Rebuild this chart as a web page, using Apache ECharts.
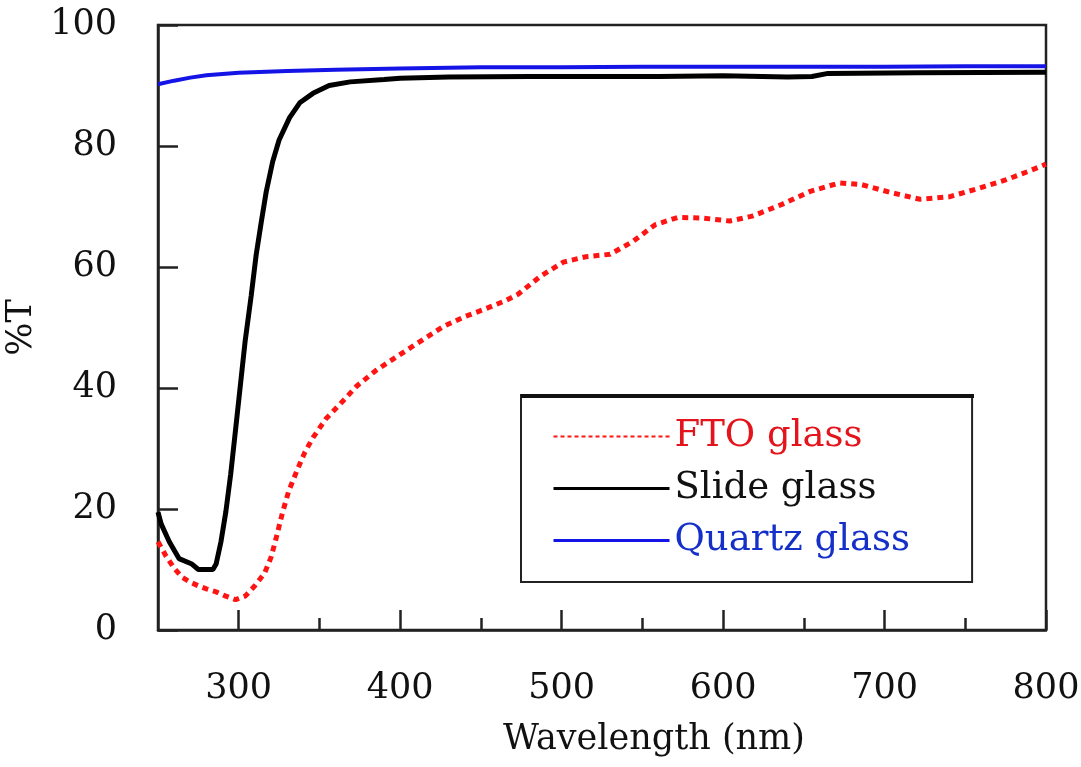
<!DOCTYPE html>
<html>
<head>
<meta charset="utf-8">
<script src="https://cdn.jsdelivr.net/npm/echarts@6/dist/echarts.min.js"></script>
<style>
  html, body { margin: 0; padding: 0; background: #fff; }
  #main { width: 1081px; height: 767px; }
</style>
</head>
<body>
<div id="main"></div>
<script>
var myChart = echarts.init(document.getElementById('main'));

// tick positions (nm)
var majorTicks = [300, 400, 500, 600, 700, 800];
var minorTicks = [350, 450, 550, 650, 750];

// [wavelength nm, %T]
var ftoGlass = [
    [250, 14.6], [255, 12.2], [260, 10.2], [265, 8.7], [270, 7.9], [275, 7.3], [280, 6.8],
    [286, 6.3], [292, 5.6], [298, 5.0], [304, 5.6], [310, 7.3], [316, 9.4], [320, 12.0],
    [323, 15.0], [327, 19.3], [331, 23.0], [336, 26.3], [341, 29.4], [346, 31.8], [354, 34.9],
    [363, 37.4], [373, 40.3], [385, 42.9], [398, 45.2], [410, 47.3], [427, 50.2], [440, 51.8],
    [451, 52.9], [465, 54.4], [473, 55.5], [487, 58.5], [501, 60.8], [515, 61.7], [530, 62.1],
    [544, 64.2], [558, 67.0], [572, 68.2], [587, 68.1], [604, 67.6], [618, 68.4], [636, 70.3],
    [654, 72.5], [672, 73.9], [686, 73.6], [704, 72.3], [722, 71.2], [740, 71.6], [757, 72.9],
    [775, 74.4], [789, 75.8], [800, 77.0]
];
var slideGlass = [
    [250, 19.5], [252, 17.5], [257, 14.6], [263, 11.8], [271, 10.9], [275, 10.0], [284, 10.0],
    [286, 10.9], [289, 14.6], [292, 19.5], [295, 25.7], [298, 33.0], [301, 40.4], [304, 47.8],
    [307.7, 55.2], [310.8, 62.0], [314, 67.5], [317, 72.4], [321, 77.4], [325, 81.0],
    [331.5, 84.7], [338, 87.2], [346, 88.7], [356, 90.0], [369, 90.6], [390, 91.0], [400, 91.2],
    [430, 91.4], [480, 91.5], [560, 91.5], [600, 91.6], [640, 91.4], [655, 91.5], [665, 92.0],
    [720, 92.1], [800, 92.2]
];
var quartzGlass = [
    [250, 90.2], [260, 90.8], [270, 91.3], [280, 91.7], [300, 92.1], [330, 92.4], [360, 92.6],
    [400, 92.8], [450, 93.0], [500, 93.0], [550, 93.1], [600, 93.1], [650, 93.1], [700, 93.1],
    [750, 93.2], [800, 93.2]
];

var serif = 'DejaVu Serif';

option = {
    backgroundColor: '#fff',
    grid: {
        left: 158,
        right: 35,
        top: 25,
        bottom: 137,
        show: true,
        borderColor: '#222',
        borderWidth: 2.5,
        outerBoundsMode: 'none'
    },
    legend: {
        left: 521,
        top: 395,
        orient: 'vertical',
        padding: [23, 62, 23, 31],
        itemGap: 15,
        itemWidth: 116,
        itemHeight: 20,
        itemTextGap: 10,
        borderColor: '#222',
        borderWidth: 2,
        itemStyle: { opacity: 0 },
        textStyle: { fontFamily: serif, fontSize: 37 },
        data: [
            { name: 'FTO glass', textStyle: { color: '#e3141c' }, lineStyle: { width: 2, type: [4, 3] } },
            { name: 'Slide glass', textStyle: { color: '#111' }, lineStyle: { width: 3 } },
            { name: 'Quartz glass', textStyle: { color: '#1530c8' }, lineStyle: { width: 3 } }
        ]
    },
    graphic: [{
        type: 'rect',
        shape: { x: 521, y: 394, width: 453, height: 4 },
        style: { fill: '#111' },
        z: 100
    }],
    xAxis: [{
        type: 'value',
        min: 250,
        max: 800,
        name: 'Wavelength (nm)',
        nameLocation: 'middle',
        nameGap: 92,
        nameTextStyle: { fontFamily: serif, fontSize: 35, color: '#111', padding: [0, 0, 0, 104] },
        axisLine: { lineStyle: { color: '#222', width: 2.5 } },
        axisTick: { inside: true, length: 20, customValues: majorTicks, lineStyle: { color: '#222', width: 2.5 } },
        axisLabel: { customValues: majorTicks, margin: 41, fontFamily: serif, fontSize: 35, color: '#111' },
        splitLine: { show: false }
    }, {
        type: 'value',
        min: 250,
        max: 800,
        position: 'bottom',
        axisLine: { show: false },
        axisTick: { inside: true, length: 12, customValues: minorTicks, lineStyle: { color: '#222', width: 2.5 } },
        axisLabel: { show: false },
        splitLine: { show: false }
    }],
    yAxis: [{
        type: 'value',
        min: 0,
        max: 100,
        interval: 20,
        name: '%T',
        nameLocation: 'middle',
        nameGap: 114,
        nameTextStyle: { fontFamily: serif, fontSize: 35, color: '#111' },
        axisLine: { show: true, lineStyle: { color: '#222', width: 2.5 } },
        axisTick: { show: true, inside: true, length: 20, lineStyle: { color: '#222', width: 2.5 } },
        axisLabel: { margin: 41, fontFamily: serif, fontSize: 35, color: '#111' },
        splitLine: { show: false }
    }],
    series: [{
        name: 'FTO glass',
        type: 'line',
        data: ftoGlass,
        symbol: 'none',
        color: '#ff1414',
        lineStyle: { color: '#ff1414', width: 5, type: [6, 5] },
        z: 3
    }, {
        name: 'Slide glass',
        type: 'line',
        data: slideGlass,
        symbol: 'none',
        color: '#000',
        lineStyle: { color: '#000', width: 5 },
        z: 4
    }, {
        name: 'Quartz glass',
        type: 'line',
        data: quartzGlass,
        symbol: 'none',
        color: '#1414e6',
        lineStyle: { color: '#1414e6', width: 4 },
        z: 2
    }]
};
myChart.setOption(option);
</script>
</body>
</html>
